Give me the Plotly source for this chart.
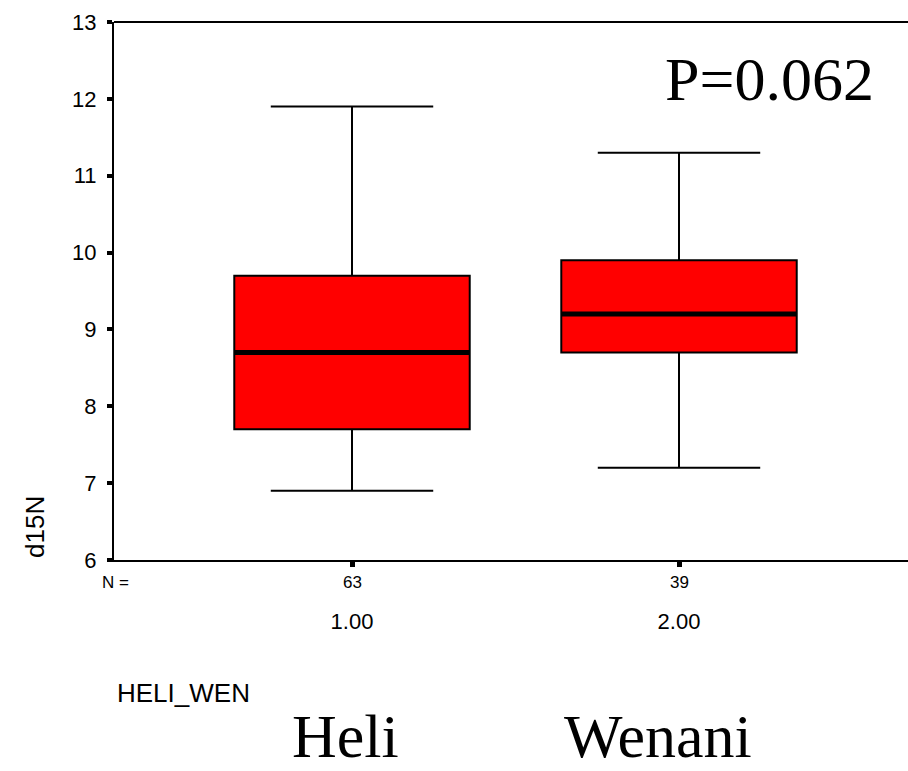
import plotly.graph_objects as go

# ---- data ----
categories = [1, 2]
cat_labels = ["1.00", "2.00"]
group_names = ["Heli", "Wenani"]
n_counts = [63, 39]
lower_whisker = [6.9, 7.2]
q1_vals = [7.7, 8.7]
median_vals = [8.7, 9.2]
q3_vals = [9.7, 9.9]
upper_whisker = [11.9, 11.3]
p_value_text = "P=0.062"

BOX_W = 0.72
SANS = "Liberation Sans, Arial, sans-serif"
SERIF = "Liberation Serif, Times New Roman, serif"

W, H = 908, 771
L, R, T, B = 114, 0, 22, 211
PW = W - L - R
PH = H - T - B

def px_x(px):
    return (px - L) / PW

def px_y(py):
    return (H - B - py) / PH

fig = go.Figure()
fig.add_trace(go.Box(
    x=categories, q1=q1_vals, median=median_vals, q3=q3_vals,
    lowerfence=lower_whisker, upperfence=upper_whisker,
    width=BOX_W, whiskerwidth=0.69, boxpoints=False,
    fillcolor="#FF0000", line=dict(color="black", width=2),
    showlegend=False, hoverinfo="skip",
))

# thick median lines
mx, my = [], []
for c, m in zip(categories, median_vals):
    mx += [c - BOX_W / 2, c + BOX_W / 2, None]
    my += [m, m, None]
fig.add_trace(go.Scatter(x=mx, y=my, mode="lines",
                         line=dict(color="black", width=5),
                         showlegend=False, hoverinfo="skip"))

annotations = []
# N counts
annotations.append(dict(text="N =", xref="paper", yref="paper", x=px_x(100), y=0,
                        yshift=-22, xanchor="left", yanchor="middle", showarrow=False,
                        font=dict(family=SANS, size=17, color="black")))
for c, n in zip(categories, n_counts):
    annotations.append(dict(text=str(n), xref="x", yref="paper", x=c, y=0,
                            yshift=-22, xanchor="center", yanchor="middle", showarrow=False,
                            font=dict(family=SANS, size=17, color="black")))
# axis titles
annotations.append(dict(text="d15N", xref="paper", yref="paper", x=px_x(35), y=px_y(527),
                        xanchor="center", yanchor="middle", textangle=-90, showarrow=False,
                        font=dict(family=SANS, size=26, color="black")))
annotations.append(dict(text="HELI_WEN", xref="paper", yref="paper", x=px_x(115), y=px_y(693),
                        xanchor="left", yanchor="middle", showarrow=False,
                        font=dict(family=SANS, size=26, color="black")))
# group names
for name, cx in zip(group_names, [345, 658]):
    annotations.append(dict(text=name, xref="paper", yref="paper", x=px_x(cx), y=px_y(H),
                            xanchor="center", yanchor="bottom", showarrow=False, borderpad=0,
                            font=dict(family=SERIF, size=62, color="black")))
# p value
annotations.append(dict(text=p_value_text, xref="paper", yref="paper", x=px_x(769), y=px_y(79),
                        xanchor="center", yanchor="middle", showarrow=False,
                        font=dict(family=SERIF, size=62, color="black")))

fig.update_layout(
    width=W, height=H,
    margin=dict(l=L, r=R, t=T, b=B, pad=0),
    paper_bgcolor="white", plot_bgcolor="white",
    showlegend=False,
    annotations=annotations,
    shapes=[dict(type="line", xref="paper", yref="paper", x0=0, x1=1, y0=1, y1=1,
                 line=dict(color="black", width=2))],
    xaxis=dict(range=[1 - 238 / 327, 2 + 229 / 327], tickvals=categories, ticktext=cat_labels,
               showgrid=False, zeroline=False, showline=True, linecolor="black", linewidth=2,
               ticks="outside", ticklen=5, tickwidth=5, tickcolor="black",
               tickfont=dict(family=SANS, size=22, color="black"),
               ticklabelstandoff=36),
    yaxis=dict(range=[6, 13], dtick=1, tick0=6,
               showgrid=False, zeroline=False, showline=True, linecolor="black", linewidth=2,
               ticks="outside", ticklen=5, tickwidth=4, tickcolor="black",
               tickfont=dict(family=SANS, size=22, color="black"),
               ticklabelstandoff=6),
)

fig.write_html("out.html", config={"displayModeBar": False},
               post_script="document.body.style.margin='0';document.body.style.overflow='hidden';")
